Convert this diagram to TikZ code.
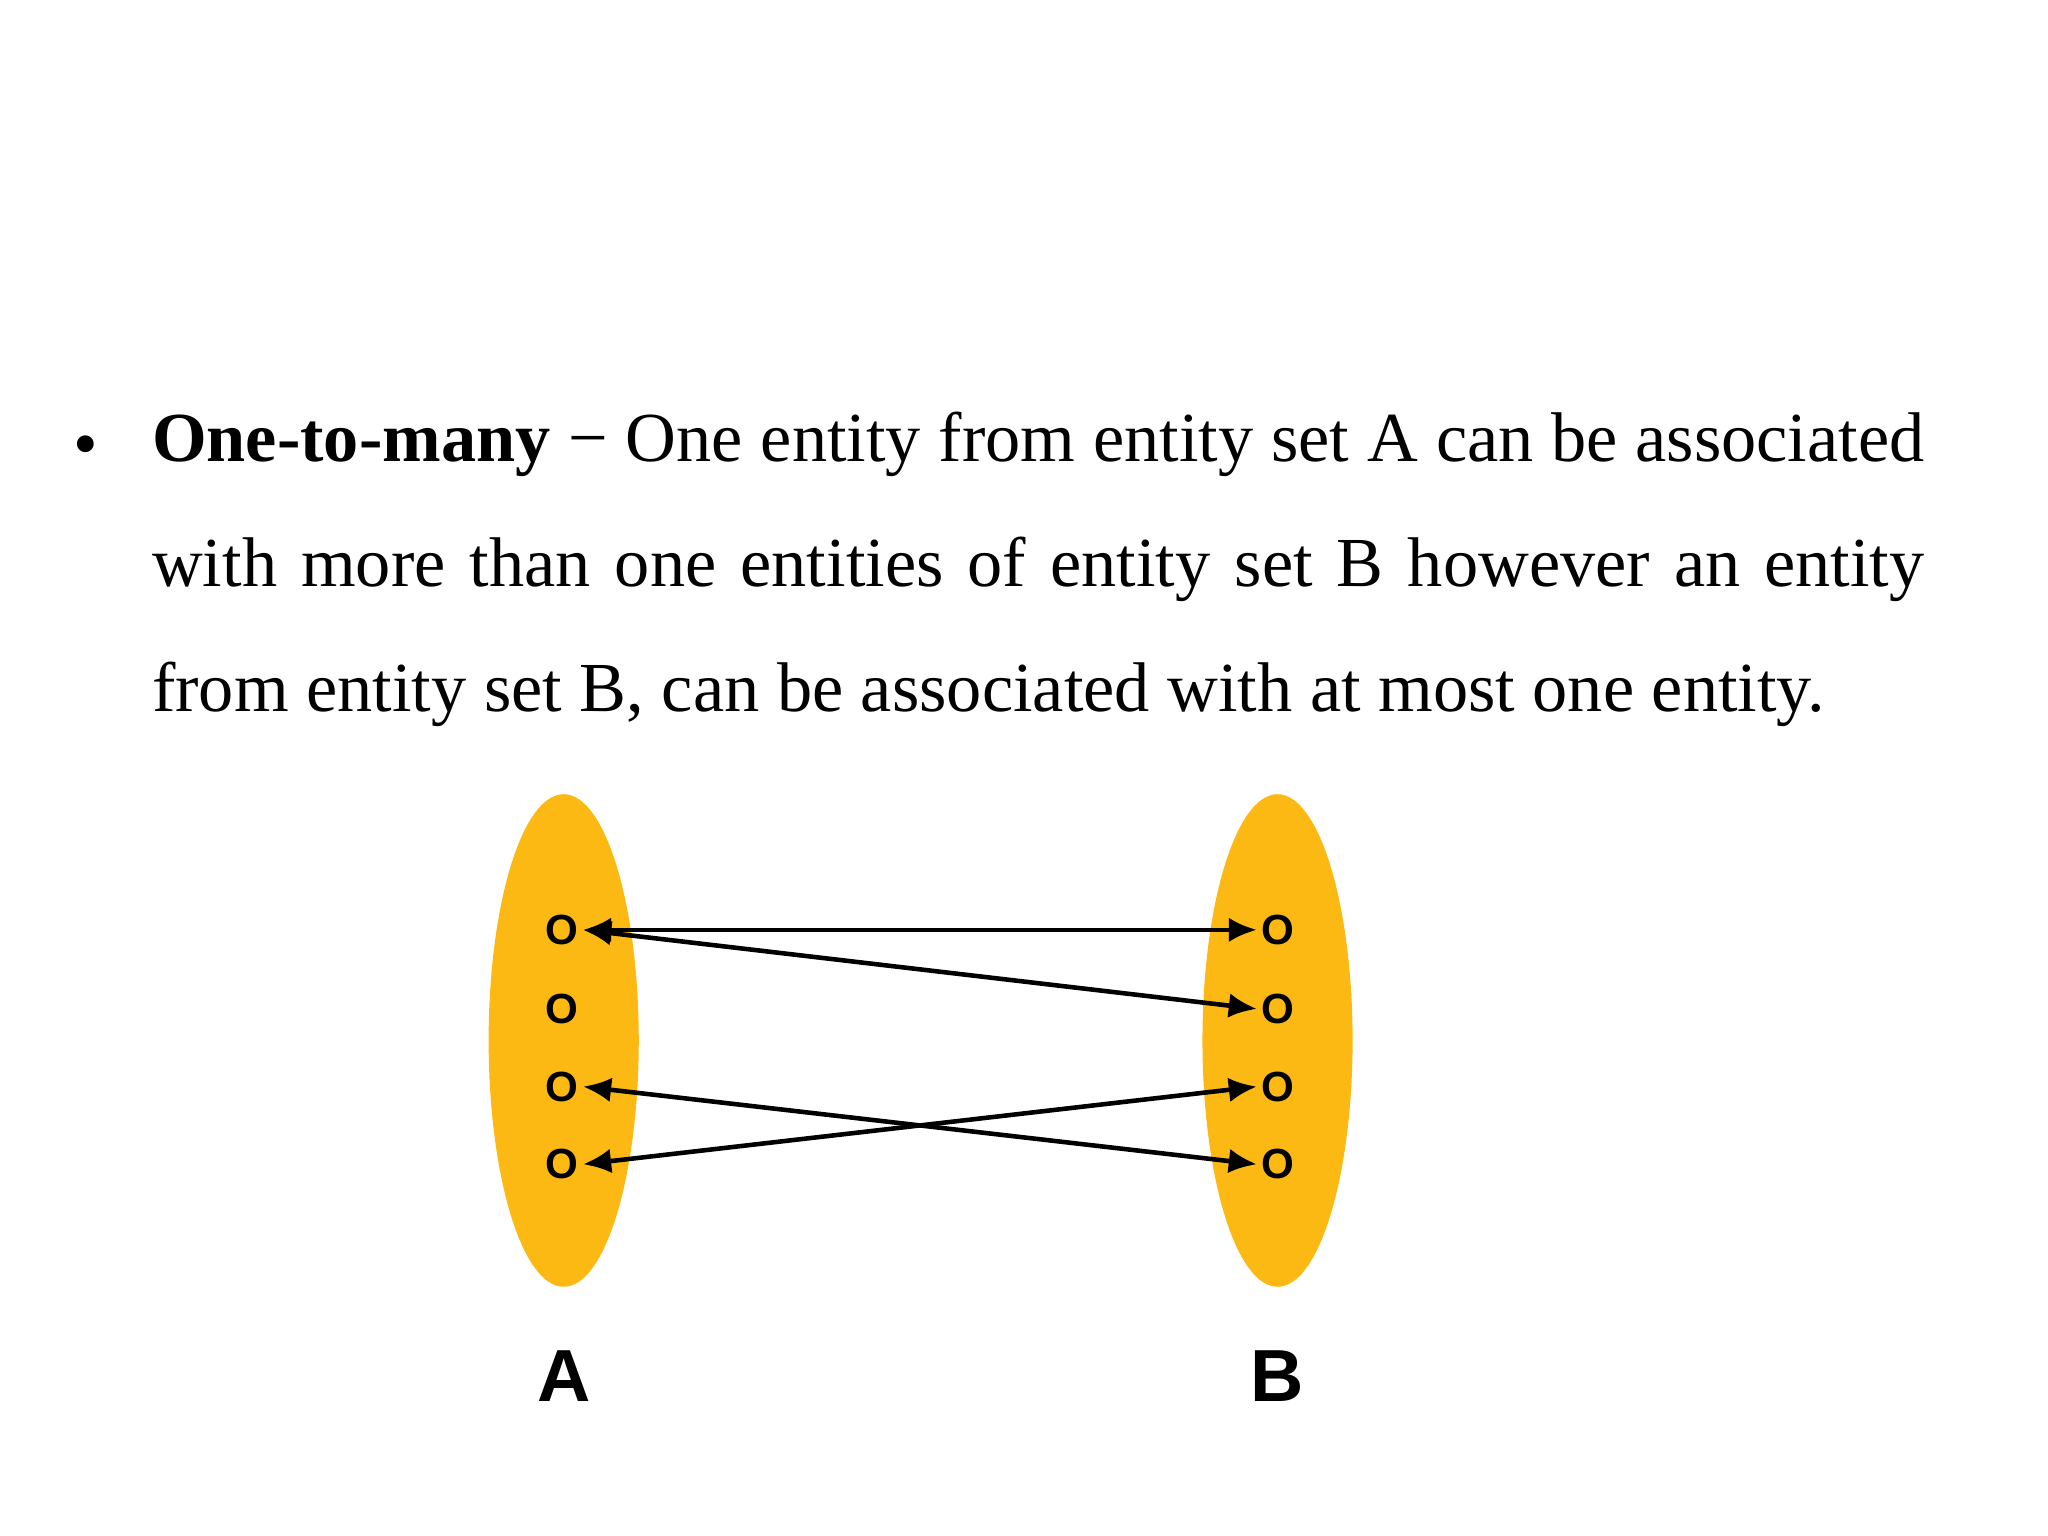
\documentclass[tikz,border=0pt]{standalone}
\usepackage{fontspec}
\setmainfont{Liberation Serif}
\newfontfamily\sansf{Liberation Sans}
\usetikzlibrary{arrows.meta}
\definecolor{setyellow}{HTML}{FDB913}
\begin{document}
\begin{tikzpicture}[x=0.01317cm,y=-0.01317cm,
  elem/.style={font=\sansf\bfseries\fontsize{12}{12}\selectfont,inner sep=1pt},
  lab/.style={font=\sansf\bfseries\fontsize{21}{21}\selectfont},
  conn/.style={line width=1.3pt,{Latex[length=8pt,width=7pt]}-{Latex[length=8pt,width=7pt]}}]
\useasboundingbox (0,0) rectangle (1555,1166);
\node[anchor=base west,inner sep=0pt] (bul) at (55,355) {\fontsize{20}{35}\selectfont •};
\node[anchor=north west,inner sep=0pt,text width=17.72cm,align=justify] (txt) at (115,312)
 {\fontsize{20}{35.6}\selectfont\textbf{One-to-many} − One entity from entity set A can be associated with more than one entities of entity set B however an entity from entity set B, can be associated with at most one entity.\par};
\fill[setyellow] (428,790) ellipse [x radius=57, y radius=187];
\fill[setyellow] (970,790) ellipse [x radius=57, y radius=187];
\foreach \i/\y in {0/706,1/766,2/825,3/884}{
  \node[elem] (a\i) at (427,\y) {O};
  \node[elem] (b\i) at (970,\y) {O};
}
\draw[conn] (a0.east) -- (b0.west);
\draw[conn] (a0.east) -- (b1.west);
\draw[conn] (a2.east) -- (b3.west);
\draw[conn] (a3.east) -- (b2.west);
\node[lab] (la) at (428,1045) {A};
\node[lab] (lb) at (970,1045) {B};
\end{tikzpicture}
\end{document}
